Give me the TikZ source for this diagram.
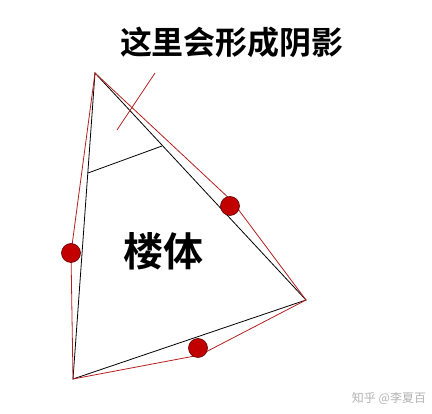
\documentclass[tikz,border=0pt]{standalone}
\usepackage{fontspec}
\newfontfamily\cjk{Noto Sans CJK SC Bold}
\newfontfamily\cjkr{Noto Sans CJK SC}
\definecolor{edgered}{RGB}{180,30,30}
\definecolor{dotred}{RGB}{195,0,0}
\definecolor{dotline}{RGB}{90,0,0}
\begin{document}
\begin{tikzpicture}[x=1pt,y=-1pt,
  blackedge/.style={draw=black,line width=0.8pt},
  rededge/.style={draw=edgered,line width=0.8pt},
  dot/.style={circle,fill=dotred,draw=dotline,line width=0.6pt,minimum size=19pt,inner sep=0pt},
  title/.style={font=\cjk\fontsize{32}{32}\selectfont,inner sep=0pt},
  wm/.style={font=\cjkr\fontsize{12}{12}\selectfont,text=black!30,inner sep=0pt}]
\useasboundingbox (0,0) rectangle (432,414);
\coordinate (A) at (95,73);
\coordinate (B) at (73,379);
\coordinate (C) at (306,300);
\coordinate (L1) at (88,173);
\coordinate (L2) at (162,146);
\coordinate (S1) at (155,73);
\coordinate (S2) at (117,130);
\coordinate (PR) at (232,201);
\coordinate (PB) at (200,355);
\coordinate (PL) at (71,253);
% black triangle
\draw[blackedge] (A) -- (B) -- (C) -- cycle;
\draw[blackedge] (L1) -- (L2);
% red outline
\draw[rededge] (A) -- (PR) -- (C) -- (PB) -- (B) -- (PL) -- cycle;
\draw[rededge] (S1) -- (S2);
% dots
\node[dot] (DR) at (230,206) {};
\node[dot] (DB) at (198,348) {};
\node[dot] (DL) at (71,253) {};
% texts
\node[title] (T) at (232,42) {这里会形成阴影};
\node[font=\cjk\fontsize{40}{40}\selectfont,inner sep=0pt] (LT) at (163,251) {楼体};
\node[wm] (W) at (389,398) {知乎 @李夏百};
\end{tikzpicture}
\end{document}
